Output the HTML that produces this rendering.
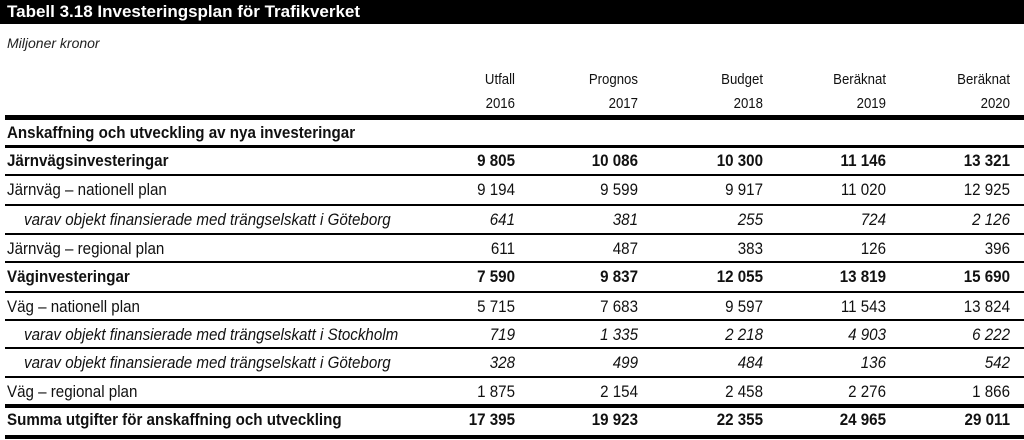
<!DOCTYPE html>
<html><head><meta charset="utf-8"><style>
body{margin:0;width:1024px;height:440px;background:#fff;overflow:hidden;position:relative;font-family:"Liberation Sans",sans-serif;color:#111}
.a{position:absolute;white-space:nowrap}
.title{left:0;top:0;width:1024px;height:24px;background:#000;color:#fff;font-weight:bold;font-size:17px;line-height:24px;padding-left:7px;box-sizing:border-box}
.sub{left:7px;top:35px;font-style:italic;font-size:14px;color:#222}
.h{font-size:15px;text-align:right;width:120px;transform:scaleX(0.88);transform-origin:right center}
.line{position:absolute;left:5px;width:1019px;background:#000}
.lbl{left:7px;font-size:17px;transform:scaleX(0.89);transform-origin:left center}
.num{font-size:17px;text-align:right;width:120px;transform:scaleX(0.89);transform-origin:right center}
.b{font-weight:bold}.i{font-style:italic}
</style></head><body>
<div class="a title">Tabell 3.18 Investeringsplan för Trafikverket</div>
<div class="a sub">Miljoner kronor</div>
<div id="t"></div>
<script>
const heads1=["Utfall","Prognos","Budget","Beräknat","Beräknat"];
const heads2=["2016","2017","2018","2019","2020"];
const colRight=[515,638,763,886,1010];
const labels=["Järnvägsinvesteringar","Järnväg – nationell plan","varav objekt finansierade med trängselskatt i Göteborg","Järnväg – regional plan","Väginvesteringar","Väg – nationell plan","varav objekt finansierade med trängselskatt i Stockholm","varav objekt finansierade med trängselskatt i Göteborg","Väg – regional plan","Summa utgifter för anskaffning och utveckling"];
const styles=["b","","i","","b","","i","i","","b"];
const values=[["9 805","10 086","10 300","11 146","13 321"],["9 194","9 599","9 917","11 020","12 925"],["641","381","255","724","2 126"],["611","487","383","126","396"],["7 590","9 837","12 055","13 819","15 690"],["5 715","7 683","9 597","11 543","13 824"],["719","1 335","2 218","4 903","6 222"],["328","499","484","136","542"],["1 875","2 154","2 458","2 276","1 866"],["17 395","19 923","22 355","24 965","29 011"]];
const t=document.getElementById('t');
function add(cls,txt,st){const d=document.createElement('div');d.className='a '+cls;d.textContent=txt;Object.assign(d.style,st);t.appendChild(d);return d;}
heads1.forEach((h,i)=>{const d=add('h',h,{left:(colRight[i]-120)+'px',top:'71px'});


const e=add('h',heads2[i],{left:(colRight[i]-120)+'px',top:'95px'});

});
function line(y,h){const d=document.createElement('div');d.className='line';d.style.top=y+'px';d.style.height=h+'px';


t.appendChild(d);}
line(115,5);
const sec=add('lbl b','Anskaffning och utveckling av nya investeringar',{top:'123px'});


line(145,3);
const tops=[146,175,205,234,262,292,320,348,377,405,435];
labels.forEach((l,r)=>{
 const y=tops[r];const cy=y+5;
 const d=add('lbl '+styles[r],l,{top:cy+'px',left:(styles[r]=='i'?24:7)+'px'});
 
 
 values[r].forEach((v,c)=>{const n=add('num '+styles[r],v,{top:cy+'px',left:(colRight[c]-120)+'px'});
 
 });
 if(r<labels.length-1){line(tops[r+1]-1,(r==8)?4:2);}
});
line(435,4);
</script>
</body></html>
